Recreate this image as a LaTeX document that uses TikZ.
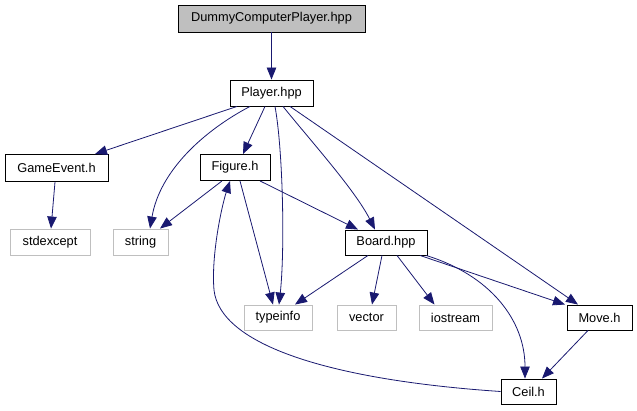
\documentclass[tikz,border=0pt]{standalone}
\usepackage{fontspec}
\setmainfont{Liberation Sans}
\usetikzlibrary{arrows.meta}
\definecolor{edgeblue}{HTML}{191970}
\definecolor{sysgrey}{HTML}{BFBFBF}
\tikzset{
  file/.style={draw=black, line width=0.9pt, rectangle, inner sep=0pt, minimum height=26pt, font=\fontsize{12.8}{14}\selectfont, text=black},
  sysfile/.style={file, draw=sysgrey},
  rootfile/.style={file, fill=sysgrey},
  dep/.style={draw=edgeblue, line width=0.8pt, -{Triangle[length=12pt,width=9.5pt]}, fill=none},
}
\begin{document}
\begin{tikzpicture}[x=1pt,y=1pt]
\useasboundingbox (0,0) rectangle (637,-411);
\node[rootfile, minimum width=187pt, minimum height=27pt] (dummy) at (271.5,-18.5) {DummyComputerPlayer.hpp};
\node[file, minimum width=83pt] (player) at (271.5,-93) {Player.hpp};
\node[file, minimum width=103pt, minimum height=27pt] (gameevent) at (56.5,-168) {GameEvent.h};
\node[file, minimum width=70pt] (figure) at (235,-167.5) {Figure.h};
\node[sysfile, minimum width=80pt] (stdexcept) at (50,-242) {stdexcept};
\node[sysfile, minimum width=55pt] (string) at (140.5,-242) {string};
\node[file, minimum width=82pt, minimum height=25pt] (board) at (386,-242.5) {Board.hpp};
\node[sysfile, minimum width=68pt, minimum height=25pt] (typeinfo) at (278,-317.5) {typeinfo};
\node[sysfile, minimum width=59pt, minimum height=25pt] (vector) at (366.5,-317.5) {vector};
\node[sysfile, minimum width=73pt, minimum height=25pt] (iostream) at (455.5,-317.5) {iostream};
\node[file, minimum width=65pt, minimum height=25pt] (move) at (599.5,-317.5) {Move.h};
\node[file, minimum width=55pt, minimum height=25pt] (ceil) at (528.5,-391.5) {Ceil.h};

\draw[dep] (dummy.south) -- (player.north);
\draw[dep] ([xshift=-34.5pt]player.south) -- ([xshift=38.5pt]gameevent.north);
\draw[dep] ([xshift=-21.5pt]player.south) .. controls (205,-130) and (160,-170) .. ([xshift=9.5pt]string.north);
\draw[dep] ([xshift=-6.5pt]player.south) -- ([xshift=8pt]figure.north);
\draw[dep] ([xshift=3.5pt]player.south) .. controls (283,-150) and (285,-250) .. ([xshift=1pt]typeinfo.north);
\draw[dep] ([xshift=11.5pt]player.south) .. controls (310,-140) and (355,-190) .. ([xshift=-11pt]board.north);
\draw[dep] ([xshift=18.5pt]player.south) -- ([xshift=-21.5pt]move.north);
\draw[dep] ([xshift=-13pt]figure.south) -- ([xshift=19.5pt]string.north);
\draw[dep] ([xshift=5pt]figure.south) -- ([xshift=-5pt]typeinfo.north);
\draw[dep] ([xshift=25pt]figure.south) -- ([xshift=-28pt]board.north);
\draw[dep] ([xshift=-1.5pt]gameevent.south) -- ([xshift=1pt]stdexcept.north);
\draw[dep] ([xshift=-18pt]board.south) -- ([xshift=17pt]typeinfo.north);
\draw[dep] ([xshift=-4pt]board.south) -- ([xshift=5.5pt]vector.north);
\draw[dep] ([xshift=11pt]board.south) -- ([xshift=-21pt]iostream.north);
\draw[dep] ([xshift=34pt]board.south) -- ([xshift=-34.5pt]move.north);
\draw[dep] ([xshift=40pt]board.south) .. controls (490,-275) and (525,-320) .. ([xshift=-3.5pt]ceil.north);
\draw[dep] ([xshift=-11.5pt]move.south) -- ([xshift=13.5pt]ceil.north);
\draw[dep] (ceil.west) .. controls (330,-380) and (220,-345) .. (214,-290) .. controls (211,-255) and (222,-205) .. ([xshift=-5pt]figure.south);
\end{tikzpicture}
\end{document}
